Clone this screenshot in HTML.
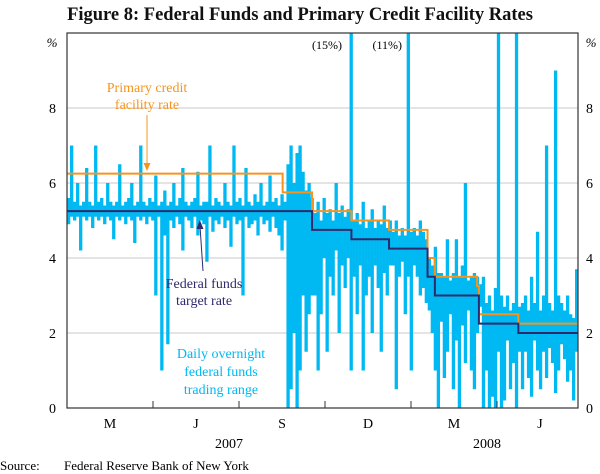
<!DOCTYPE html>
<html><head><meta charset="utf-8"><style>
body{margin:0;background:#fff;}
svg{display:block;font-family:"Liberation Serif",serif;}
</style></head><body>
<svg id="chart" width="600" height="474" viewBox="0 0 600 474" xmlns="http://www.w3.org/2000/svg">
<text x="300" y="20" text-anchor="middle" font-size="18.5" font-weight="bold" fill="#111">Figure 8: Federal Funds and Primary Credit Facility Rates</text>
<g id="grid"></g>
<g id="bars"></g>
<g id="lines"></g>
<rect x="67" y="33" width="511" height="375" fill="none" stroke="#333" stroke-width="1.2"/>
<g id="axes"></g>
<text x="52" y="47" font-size="13" font-style="italic" text-anchor="middle">%</text>
<text x="591" y="47" font-size="13" font-style="italic" text-anchor="middle">%</text>
<text x="342" y="49" font-size="12" text-anchor="end">(15%)</text>
<text x="402" y="49" font-size="12" text-anchor="end">(11%)</text>
<g fill="#f7941d" font-size="14" text-anchor="middle">
<text x="147" y="92">Primary credit</text><text x="147" y="109">facility rate</text></g>
<line x1="147" y1="115" x2="147" y2="166" stroke="#f7941d" stroke-width="1"/>
<polygon points="143.5,163 150.5,163 147,171" fill="#f7941d"/>
<g fill="#2e2a6e" font-size="14" text-anchor="middle">
<text x="204" y="288">Federal funds</text><text x="204" y="305">target rate</text></g>
<line x1="203" y1="271" x2="200" y2="226" stroke="#2e2a6e" stroke-width="1"/>
<polygon points="196.5,229 203.5,229 199.8,220" fill="#2e2a6e"/>
<g fill="#00b9f2" font-size="14" text-anchor="middle">
<text x="221" y="358">Daily overnight</text><text x="221" y="376">federal funds</text><text x="221" y="394">trading range</text></g>
<text x="0" y="470" font-size="13">Source:</text>
<text x="64" y="470" font-size="13">Federal Reserve Bank of New York</text>
</svg>
<script>
const yTicks=[0,2,4,6,8];
const quarterLabels=["M","J","S","D","M","J"];
const yearLabels=["2007","2008"];
const highs=[5.6,7.0,5.5,6.0,5.4,5.5,6.4,5.5,5.4,7.0,5.5,5.6,5.4,6.0,5.5,5.4,5.5,6.5,5.4,5.5,5.6,6.0,5.4,5.5,7.0,5.5,5.4,5.6,5.5,6.2,5.4,5.5,5.8,5.4,5.5,6.0,5.4,5.6,6.4,5.5,5.4,5.5,5.6,6.3,5.4,5.5,5.5,7.0,5.4,5.6,5.5,5.4,6.0,5.5,5.4,7.0,5.5,5.6,5.4,6.4,5.5,5.4,5.7,5.5,6.0,5.4,5.5,6.2,5.5,5.6,5.4,5.7,5.5,
6.5,7.0,6.0,6.8,7.0,6.3,5.8,6.0,5.6,
5.2,5.5,5.0,5.6,5.2,5.3,5.0,6.0,5.2,5.4,5.1,5.3,15,5.0,
5.2,4.9,5.5,4.8,5.0,5.3,4.8,5.0,4.9,5.4,4.8,5.0,
4.7,5.0,4.6,4.8,4.6,11,4.7,4.8,4.6,5.0,4.7,4.5,
4.0,3.8,4.3,3.6,3.6,3.5,4.5,3.4,3.6,4.5,3.5,3.8,6.0,3.4,3.5,3.6,3.5,3.3,
3.5,2.8,3.0,2.6,3.2,11,3.0,2.7,3.0,2.6,2.8,11,2.7,
2.8,3.0,2.6,3.5,2.8,4.7,2.6,3.0,7.0,2.8,2.6,9.0,3.0,2.8,2.6,3.0,2.5,2.4,3.7];
const lows=[4.9,5.1,5.0,5.1,4.2,5.1,5.0,5.1,4.8,5.1,5.0,5.1,4.9,5.1,5.0,4.5,5.1,5.0,5.1,4.9,5.1,5.0,4.4,5.1,5.0,5.1,4.9,5.1,5.0,3.0,5.1,1.0,4.6,1.7,5.0,4.8,5.1,4.9,4.2,5.1,5.0,4.8,5.1,4.6,5.0,4.9,3.9,5.1,4.7,5.0,4.9,5.1,4.8,5.0,4.3,5.1,4.9,5.0,3.0,5.1,4.8,4.9,5.0,4.6,5.1,4.9,5.0,4.7,5.1,4.8,4.6,4.2,5.0,
0.0,0.5,2.0,0.0,1.0,3.0,1.5,2.5,3.0,
3.0,1.0,2.5,4.0,1.5,3.5,3.0,4.2,2.0,3.8,3.2,4.0,1.0,3.5,
2.5,3.8,1.0,3.0,3.5,2.0,3.8,3.2,1.5,3.6,3.0,3.8,
3.8,0.5,3.5,3.9,2.5,3.5,1.0,3.8,3.5,3.0,3.2,2.8,
2.6,2.0,1.0,0.0,2.3,0.8,1.5,2.5,0.5,1.8,0.0,2.2,1.2,2.6,1.0,0.5,2.0,2.7,
0.0,1.0,0.0,0.3,0.0,1.5,0.0,0.2,1.8,0.5,1.2,0.0,1.5,
0.5,1.5,0.8,0.3,1.8,1.0,0.5,1.5,0.8,1.6,1.2,0.4,1.0,1.7,1.3,0.7,1.0,0.2,1.5];
const targetDates=["2006-12-25","2007-09-18","2007-10-31","2007-12-11","2008-01-22","2008-01-30","2008-03-18","2008-04-30","2008-07-05"];
const targetRates=[5.25,4.75,4.5,4.25,3.5,3.0,2.25,2.0,2.0];
const pcfDates=["2006-12-25","2007-08-17","2007-09-18","2007-10-31","2007-12-11","2008-01-22","2008-01-30","2008-03-16","2008-03-18","2008-04-30","2008-07-05"];
const pcfRates=[6.25,5.75,5.25,5.0,4.75,4.0,3.5,3.25,2.5,2.25,2.25];

const NS="http://www.w3.org/2000/svg";
const X0=67,X1=578,Y0=408,YTOP=33,YMAX=10;
function y(v){return Y0-Math.min(v,YMAX)/YMAX*(Y0-YTOP);}
const REF=Date.UTC(2007,8,18);
function xDate(s){const p=s.split("-");const d=(Date.UTC(+p[0],+p[1]-1,+p[2])-REF)/864e5;return Math.max(X0,Math.min(X1,312+d*0.917));}
function xIdx(i){return X0+(i+0.5)*(X1-X0)/highs.length;}
function mk(tag,parent,attrs){const e=document.createElementNS(NS,tag);for(const k in attrs)e.setAttribute(k,attrs[k]);parent.appendChild(e);return e;}
const grid=document.getElementById("grid"),axes=document.getElementById("axes"),bars=document.getElementById("bars"),lines=document.getElementById("lines");
yTicks.forEach(v=>{
 if(v>0){const g=mk("line",grid,{x1:X0,x2:X1,y1:y(v),y2:y(v),stroke:"#c8c8c8","stroke-width":1});
 
 }
 const l=mk("text",axes,{x:56,y:y(v)+5,"text-anchor":"end","font-size":14});l.textContent=v;
 
 
 const r=mk("text",axes,{x:586,y:y(v)+5,"text-anchor":"start","font-size":14});r.textContent=v;
 
 
});
const bw=(X1-X0)/highs.length;
highs.forEach((h,i)=>{
 const b=mk("rect",bars,{x:xIdx(i)-bw/2,width:bw+0.3,y:y(h),height:Math.max(1,y(lows[i])-y(h)),fill:"#00b9f2"});
 
 
});
function stepPath(dates,rates){let d="";dates.forEach((s,i)=>{const xx=xDate(s),yy=y(rates[i]);if(i===0)d+="M"+xx+","+yy;else d+="H"+xx+"V"+yy;});return d;}
const pl=mk("path",lines,{d:stepPath(pcfDates,pcfRates),fill:"none",stroke:"#f7941d","stroke-width":2});


const tl=mk("path",lines,{d:stepPath(targetDates,targetRates),fill:"none",stroke:"#2e2a6e","stroke-width":2});


const qStep=86;
for(let q=1;q<6;q++){const t=mk("line",axes,{x1:X0+q*qStep,x2:X0+q*qStep,y1:Y0,y2:Y0-7,stroke:"#333"});
 
 }
quarterLabels.forEach((s,q)=>{const t=mk("text",axes,{x:X0+q*qStep+43,y:428,"text-anchor":"middle","font-size":14});t.textContent=s;
 
 });
yearLabels.forEach((s,k)=>{const t=mk("text",axes,{x:X0+(2+3*k)*qStep-10,y:448,"text-anchor":"middle","font-size":14});t.textContent=s;
 
 });
</script>
</body></html>
